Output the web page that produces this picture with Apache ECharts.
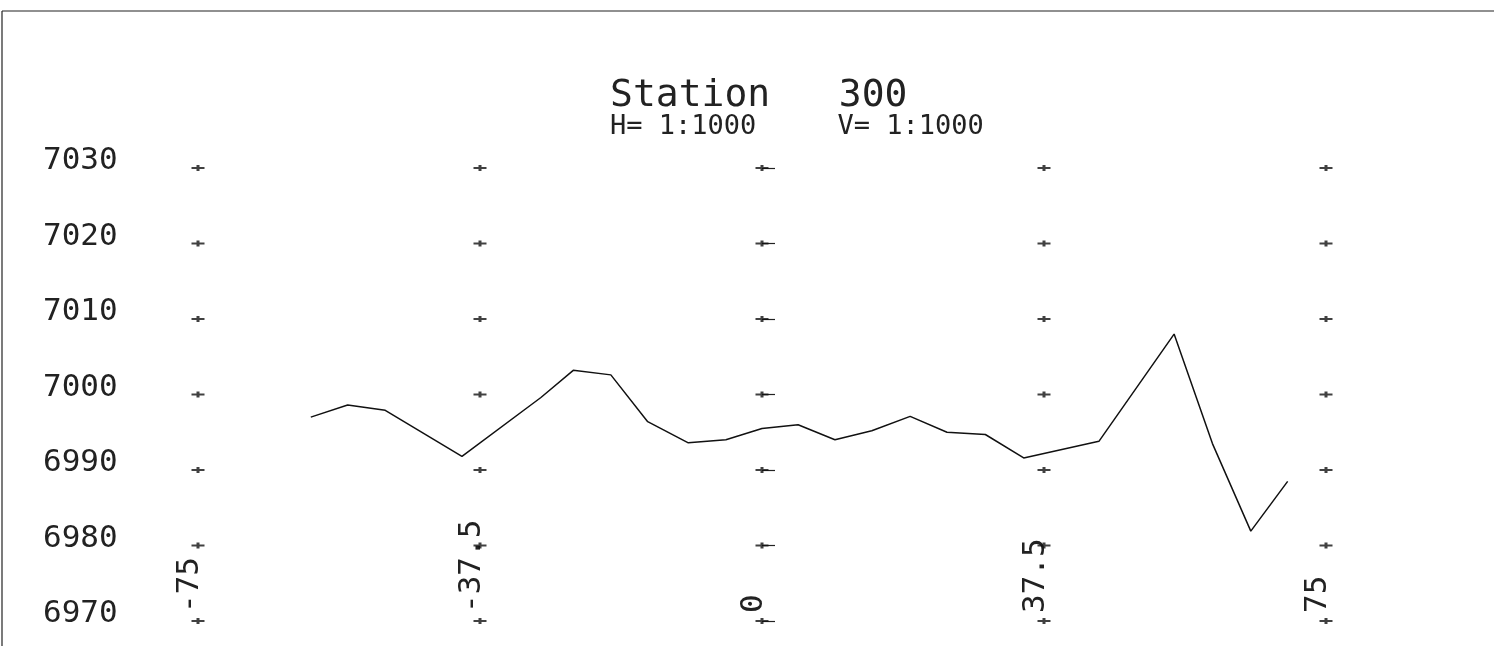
<!DOCTYPE html>
<html>
<head>
<meta charset="utf-8">
<script src="https://cdn.jsdelivr.net/npm/echarts@6/dist/echarts.min.js"></script>
<style>
  html, body { margin: 0; padding: 0; background: #fff; }
  #chart { width: 1494px; height: 646px; }
</style>
</head>
<body>
<div id="chart"></div>
<script>
// profile data (offset from centre line, elevation)
const offsets = [-60, -55.1, -50.1, -39.9, -29.4, -25.1, -20.1, -15.2, -9.8, -4.8, 0, 4.8, 9.7, 14.6, 19.7, 24.6, 29.7, 34.8, 44.8, 54.8, 59.9, 65, 69.9];
const elevations = [6997.0, 6998.6, 6997.9, 6991.8, 6999.6, 7003.2, 7002.6, 6996.4, 6993.6, 6994.0, 6995.5, 6996.0, 6994.0, 6995.2, 6997.1, 6995.0, 6994.7, 6991.6, 6993.8, 7008.0, 6993.5, 6981.9, 6988.5];
const xTicks = [-75, -37.5, 0, 37.5, 75];
const yTicks = [6970, 6980, 6990, 7000, 7010, 7020, 7030];

const font = '"DejaVu Sans Mono", "Liberation Mono", monospace';

const profile = offsets.map((x, i) => [x, elevations[i]]);
const crosses = [];
xTicks.forEach(x => yTicks.forEach(y => crosses.push([x, y])));

const myChart = echarts.init(document.getElementById('chart'));
myChart.setOption({
  animation: false,
  backgroundColor: '#fff',
  title: {
    text: 'Station   300',
    subtext: 'H= 1:1000     V= 1:1000',
    left: 605,
    top: 72,
    itemGap: -2,
    textStyle: { fontFamily: font, fontSize: 38, fontWeight: 'normal', color: '#222' },
    subtextStyle: { fontFamily: font, fontSize: 27, color: '#222' }
  },
  graphic: [
    { type: 'line', shape: { x1: 2, y1: 11, x2: 2, y2: 646 }, style: { stroke: '#222', lineWidth: 1.2 } },
    { type: 'line', shape: { x1: 2, y1: 11, x2: 1494, y2: 11 }, style: { stroke: '#222', lineWidth: 1.2 } }
  ],
  grid: {
    left: 198,
    right: 168,
    top: 168,
    bottom: 25,
    outerBoundsMode: 'none'
  },
  xAxis: {
    type: 'value',
    min: -75,
    max: 75,
    interval: 37.5,
    axisLine: { show: false },
    axisTick: { show: false },
    splitLine: { show: false },
    axisLabel: {
      inside: true,
      rotate: 90,
      margin: 8,
      verticalAlign: 'bottom',
      lineHeight: 16,
      fontFamily: font,
      fontSize: 31,
      color: '#222',
      showMinLabel: true,
      showMaxLabel: true,
      formatter: v => String(v)
    }
  },
  yAxis: {
    type: 'value',
    min: 6970,
    max: 7030,
    interval: 10,
    offset: 196,
    axisLine: { show: false },
    axisTick: { show: true, inside: true, length: 13, lineStyle: { color: '#222', width: 1.2 } },
    splitLine: { show: false },
    axisLabel: {
      inside: true,
      margin: 41,
      verticalAlign: 'bottom',
      lineHeight: 14,
      fontFamily: font,
      fontSize: 31,
      color: '#222',
      formatter: v => String(v)
    }
  },
  series: [
    {
      type: 'scatter',
      data: crosses,
      symbol: 'path://M0,2h13v2h-13z M5,0h3v6h-3z',
      symbolSize: [13, 6],
      itemStyle: { color: '#111' },
      silent: true
    },
    {
      type: 'line',
      data: profile,
      showSymbol: false,
      lineStyle: { color: '#111', width: 1.5 }
    }
  ]
});
</script>
</body>
</html>
